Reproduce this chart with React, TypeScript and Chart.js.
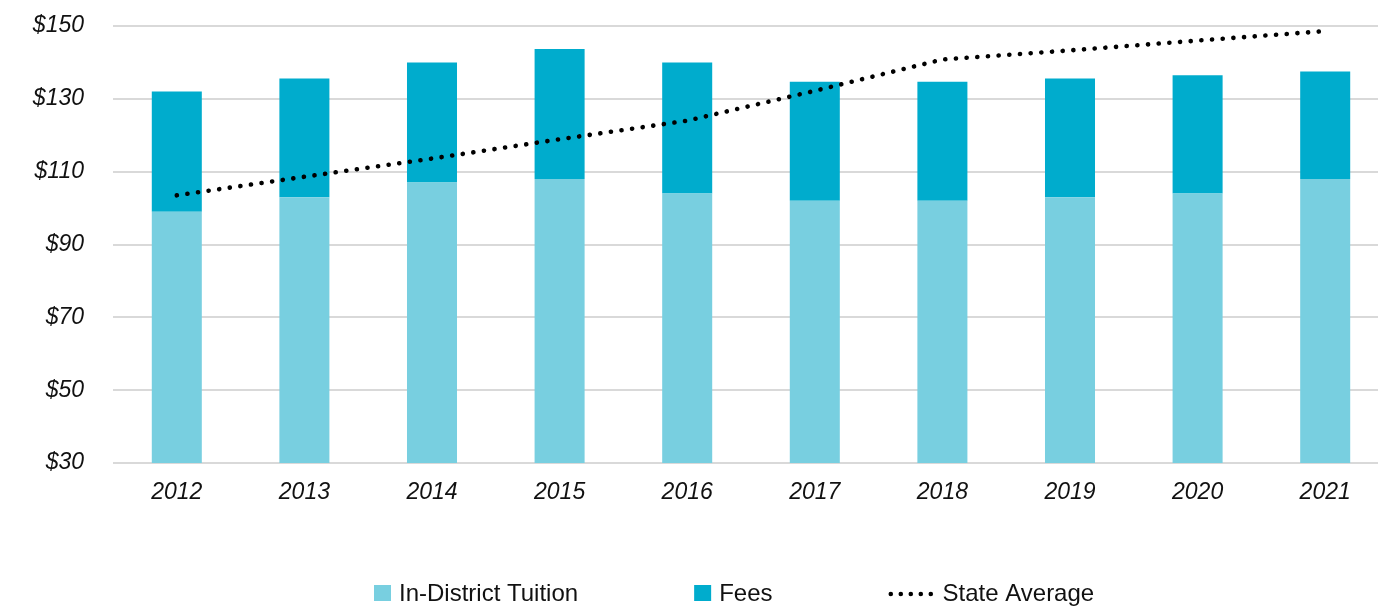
import React, { useEffect, useRef } from "react";
import { Chart, registerables } from "chart.js";

Chart.register(...registerables);

const categories = ["2012", "2013", "2014", "2015", "2016", "2017", "2018", "2019", "2020", "2021"];
const tuition = [99, 103, 107, 108, 104, 102, 102, 103, 104, 108];
const fees = [33, 32.6, 33, 35.7, 36, 32.7, 32.7, 32.6, 32.5, 29.5];
const stateAverage = [103.5, 108.6, 113.6, 118.9, 124, 132.2, 140.8, 143.3, 146, 148.6];
const yMin = 30;
const yMax = 150;
const yStep = 20;
const tickPrefix = "$";

const FONT = "'Liberation Sans', Arial, Helvetica, sans-serif";
const TEXT = "#111111";
const C_TUITION = "#78CFE0";
const C_FEES = "#00ACCD";
const C_LINE = "#000000";

const legendPlugin = {
  id: "customLegend",
  afterDraw(chart: any) {
    const ctx = chart.ctx as CanvasRenderingContext2D;
    ctx.save();
    ctx.font = `24px ${FONT}`;
    ctx.textBaseline = "middle";
    ctx.textAlign = "left";
    const y = 593;
    let x = 374;
    const items = chart.data.datasets.map((ds: any) => ({
      label: ds.label,
      type: ds.type,
      color: ds.type === "line" ? ds.borderColor : ds.backgroundColor,
    }));
    items.forEach((it: any) => {
      if (it.type === "line") {
        ctx.fillStyle = it.color;
        for (let k = 0; k < 5; k++) {
          ctx.beginPath();
          ctx.arc(x + 2.3 + k * 10, y + 1, 2.3, 0, Math.PI * 2);
          ctx.fill();
        }
        x += 45 + 9;
      } else {
        ctx.fillStyle = it.color;
        ctx.fillRect(x, y - 8, 17, 16);
        x += 17 + 8;
      }
      ctx.fillStyle = TEXT;
      ctx.fillText(it.label, x, y + 1);
      x += ctx.measureText(it.label).width + 116;
    });
    ctx.restore();
  },
};

export default function App() {
  const ref = useRef<HTMLCanvasElement | null>(null);

  useEffect(() => {
    if (!ref.current) return;
    const chart = new Chart(ref.current, {
      type: "bar",
      data: {
        labels: categories,
        datasets: [
          {
            type: "bar",
            label: "In-District Tuition",
            data: tuition,
            backgroundColor: C_TUITION,
            stack: "bars",
            order: 1,
            categoryPercentage: 1,
            barPercentage: 0.392,
          } as any,
          {
            type: "bar",
            label: "Fees",
            data: fees,
            backgroundColor: C_FEES,
            stack: "bars",
            order: 1,
            categoryPercentage: 1,
            barPercentage: 0.392,
          } as any,
          {
            type: "line",
            label: "State Average",
            data: stateAverage,
            borderColor: C_LINE,
            backgroundColor: C_LINE,
            borderWidth: 4.6,
            borderDash: [0.1, 10.6],
            borderCapStyle: "round",
            pointRadius: 0,
            tension: 0,
            fill: false,
            stack: "line",
            order: 0,
          } as any,
        ],
      },
      options: {
        responsive: false,
        animation: false,
        layout: { padding: { top: 26, right: 11, left: 0, bottom: 0 } },
        plugins: {
          legend: { display: false },
          tooltip: { enabled: false },
        },
        scales: {
          x: {
            stacked: true,
            grid: { display: false },
            border: { display: false },
            ticks: {
              color: TEXT,
              padding: 8,
              font: { family: FONT, size: 23, style: "italic" },
            },
            afterFit: (scale: any) => {
              scale.height = 145;
            },
          },
          y: {
            stacked: true,
            min: yMin,
            max: yMax,
            grid: { color: "#d9d9d9", lineWidth: 2, drawTicks: false },
            border: { display: false },
            ticks: {
              stepSize: yStep,
              color: TEXT,
              padding: 29,
              labelOffset: 0,
              font: { family: FONT, size: 23, style: "italic" },
              callback: (v: any) => tickPrefix + v,
            },
            afterFit: (scale: any) => {
              scale.width = 113;
              scale.paddingTop = 0;
              scale.paddingBottom = 0;
            },
          },
        },
      },
      plugins: [legendPlugin],
    });
    return () => chart.destroy();
  }, []);

  return (
    <div style={{ position: "fixed", left: 0, top: 0, width: 1378, height: 608, overflow: "hidden", background: "#fff" }}>
      <canvas ref={ref} width={1400} height={608} style={{ display: "block" }} />
    </div>
  );
}
